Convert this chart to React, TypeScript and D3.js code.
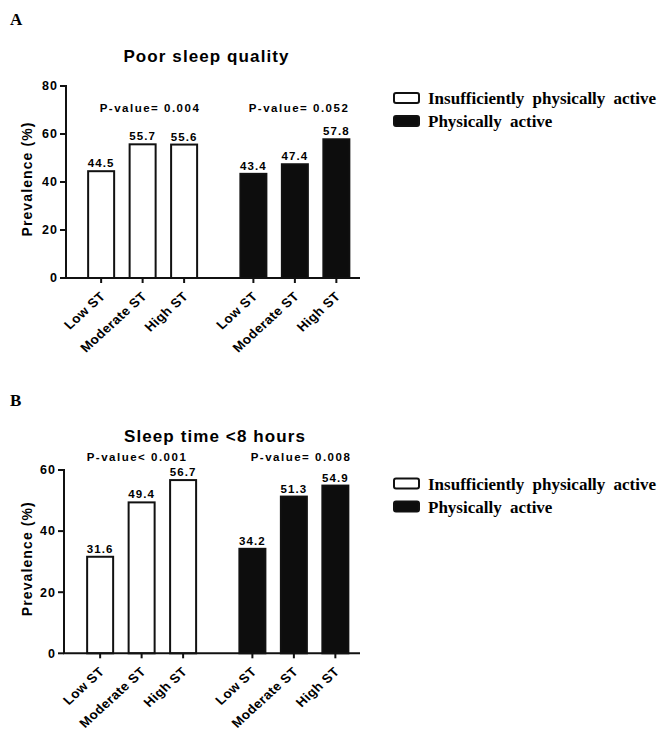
import * as d3 from 'd3'

const categories = ['Low ST', 'Moderate ST', 'High ST']
const groups = ['Insufficiently physically active', 'Physically active']

const poorSleepInactive = [44.5, 55.7, 55.6]
const poorSleepActive = [43.4, 47.4, 57.8]
const shortSleepInactive = [31.6, 49.4, 56.7]
const shortSleepActive = [34.2, 51.3, 54.9]

const pValuesA = ['P-value= 0.004', 'P-value= 0.052']
const pValuesB = ['P-value< 0.001', 'P-value= 0.008']

const ticksA = [0, 20, 40, 60, 80]
const ticksB = [0, 20, 40, 60]

const SANS = '"Liberation Sans", Arial, sans-serif'
const SERIF = '"Liberation Serif", "Times New Roman", serif'

type PanelProps = {
  letter: string
  letterY: number
  title: string
  titleX: number
  titleY: number
  pValues: string[]
  pX: number[]
  pY: number
  series: number[][]
  ticks: number[]
  yZero: number
  yTop: number
  axisX: number
  shiftX: number
  legendY: number
}

function Panel(p: PanelProps) {
  const yMax = p.ticks[p.ticks.length - 1]
  const y = d3.scaleLinear().domain([0, yMax]).range([p.yZero, p.yTop])

  // two groups side by side, three bars in each
  const outer = d3.scaleBand<string>().domain(groups).range([66.5 + p.shiftX, 371 + p.shiftX])
  const inner = d3
    .scaleBand<string>()
    .domain(categories)
    .range([0, outer.bandwidth()])
    .paddingInner(0.325)
    .paddingOuter(0.4975)

  const fills = ['#fff', '#0d0d0d']

  return (
    <g>
      <text x={10} y={p.letterY} fontFamily={SERIF} fontWeight="bold" fontSize={17}>
        {p.letter}
      </text>
      <text
        x={p.titleX}
        y={p.titleY}
        textAnchor="middle"
        fontFamily={SANS}
        fontWeight="bold"
        fontSize={17}
        letterSpacing={1.1}
      >
        {p.title}
      </text>

      {p.pValues.map((t, i) => (
        <text
          key={t}
          x={p.pX[i]}
          y={p.pY}
          textAnchor="middle"
          fontFamily={SANS}
          fontWeight="bold"
          fontSize={11.5}
          letterSpacing={1.5}
        >
          {t}
        </text>
      ))}

      {/* bars */}
      {groups.map((g, gi) =>
        p.series[gi].map((v, ci) => {
          const x0 = (outer(g) as number) + (inner(categories[ci]) as number)
          const w = inner.bandwidth()
          return (
            <g key={g + ci}>
              <rect
                x={x0 + 1}
                y={y(v)}
                width={w - 2}
                height={p.yZero - y(v)}
                fill={fills[gi]}
                stroke="#111"
                strokeWidth={2}
              />
              <text
                x={x0 + w / 2}
                y={y(v) - 4}
                textAnchor="middle"
                fontFamily={SANS}
                fontWeight="bold"
                fontSize={11.5}
                letterSpacing={1.1}
              >
                {v.toFixed(1)}
              </text>
            </g>
          )
        })
      )}

      {/* y axis */}
      <line x1={p.axisX} x2={p.axisX} y1={p.yTop - 1} y2={p.yZero} stroke="#111" strokeWidth={2} />
      {p.ticks.map((t) => (
        <g key={t}>
          <line x1={p.axisX - 6} x2={p.axisX} y1={y(t)} y2={y(t)} stroke="#111" strokeWidth={2} />
          <text
            x={p.axisX - 8}
            y={y(t)}
            dy="0.35em"
            textAnchor="end"
            fontFamily={SANS}
            fontWeight="bold"
            fontSize={12.5}
            letterSpacing={1}
          >
            {t}
          </text>
        </g>
      ))}
      <text
        transform={`translate(32,${(p.yZero + p.yTop) / 2 - 3}) rotate(-90)`}
        textAnchor="middle"
        fontFamily={SANS}
        fontWeight="bold"
        fontSize={14}
        letterSpacing={1.1}
      >
        Prevalence (%)
      </text>

      {/* x axis */}
      <line x1={p.axisX - 1} x2={360} y1={p.yZero} y2={p.yZero} stroke="#111" strokeWidth={2} />
      {groups.map((g) =>
        categories.map((c) => {
          const cx = (outer(g) as number) + (inner(c) as number) + inner.bandwidth() / 2
          return (
            <g key={g + c}>
              <line x1={cx} x2={cx} y1={p.yZero} y2={p.yZero + 5} stroke="#111" strokeWidth={2} />
              <text
                transform={`translate(${cx + 5},${p.yZero + 19}) scale(1.1,1) rotate(-45)`}
                textAnchor="end"
                fontFamily={SANS}
                fontWeight="bold"
                fontSize={12.5}
                letterSpacing={0.4}
              >
                {c}
              </text>
            </g>
          )
        })
      )}

      {/* legend */}
      {groups.map((g, gi) => (
        <g key={g} transform={`translate(394,${p.legendY + gi * 23})`}>
          <rect x={0} y={0} width={25} height={10} rx={2} fill={fills[gi]} stroke="#111" strokeWidth={2} />
          <text x={34} y={11} fontFamily={SERIF} fontWeight="bold" fontSize={17} wordSpacing={4}>
            {g}
          </text>
        </g>
      ))}
    </g>
  )
}

export default function App() {
  return (
    <svg width={662} height={730} style={{ position: 'absolute', left: 0, top: 0, background: '#fff' }}>
      <rect width={662} height={730} fill="#fff" />
      <Panel
        letter="A"
        letterY={25}
        title="Poor sleep quality"
        titleX={206.5}
        titleY={62}
        pValues={pValuesA}
        pX={[150, 299]}
        pY={112}
        series={[poorSleepInactive, poorSleepActive]}
        ticks={ticksA}
        yZero={278}
        yTop={86}
        axisX={66}
        shiftX={0}
        legendY={93}
      />
      <Panel
        letter="B"
        letterY={406}
        title="Sleep time <8 hours"
        titleX={215}
        titleY={442}
        pValues={pValuesB}
        pX={[137, 301]}
        pY={461}
        series={[shortSleepInactive, shortSleepActive]}
        ticks={ticksB}
        yZero={653.3}
        yTop={470}
        axisX={64}
        shiftX={-1}
        legendY={478.5}
      />
    </svg>
  )
}
